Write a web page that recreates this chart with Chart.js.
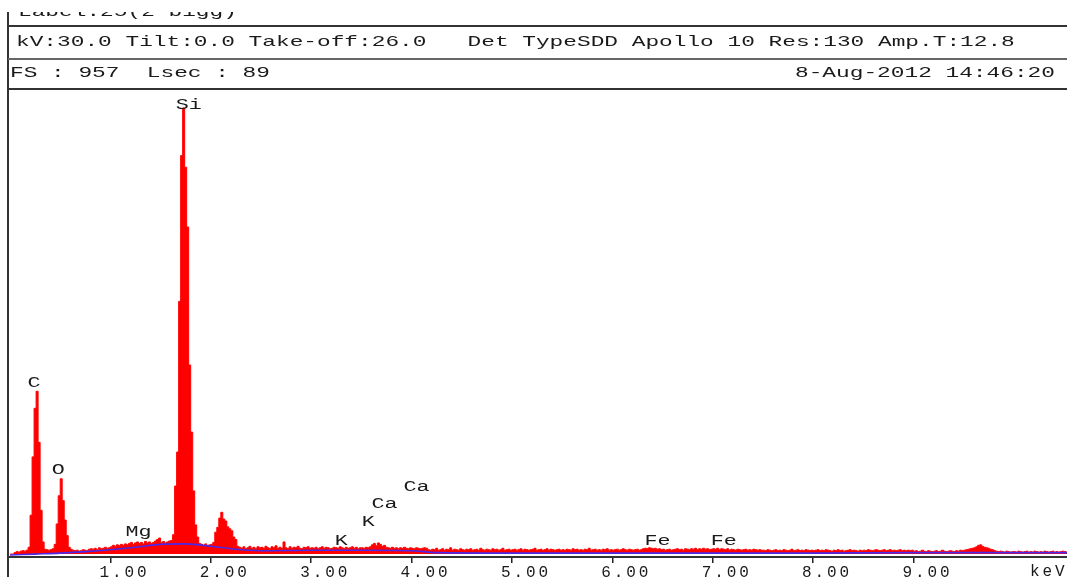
<!DOCTYPE html>
<html>
<head>
<meta charset="utf-8">
<script src="https://cdn.jsdelivr.net/npm/chart.js@4.4.0/dist/chart.umd.min.js"></script>
<style>
  body { margin: 0; background: #fff; }
  #wrap { position: relative; width: 1067px; height: 577px; overflow: hidden; }
  #spectrum { position: absolute; left: 0; top: 0; }
  .txt { position: absolute; font: 15px "Liberation Mono", monospace; line-height: 15px; color: #1a1a1a;
         white-space: pre; transform: scaleX(1.52); transform-origin: 0 50%; }
  .hline { position: absolute; left: 8px; right: 0; }
  #clipTop { position: absolute; left: 9px; top: 12px; width: 1000px; height: 13px; overflow: hidden; }
</style>
</head>
<body>
<div id="wrap">
  <canvas id="spectrum" width="1067" height="577"></canvas>
  <div id="clipTop"><div class="txt" style="left:9px; top:-7px;">Label:25(2 bigg)</div></div>
  <div style="position:absolute; left:7px; top:12px; width:2px; height:565px; background:#333;"></div>
  <div class="hline" style="top:25px; height:2px; background:#333;"></div>
  <div class="txt" style="left:16px; top:35px;">kV:30.0 Tilt:0.0 Take-off:26.0   Det TypeSDD Apollo 10 Res:130 Amp.T:12.8</div>
  <div class="hline" style="top:58px; height:2px; background:#666;"></div>
  <div class="txt" style="left:10px; top:66px;">FS : 957  Lsec : 89</div>
  <div class="txt" style="left:795px; top:66px;">8-Aug-2012 14:46:20</div>
  <div class="hline" style="top:88px; height:2px; background:#333;"></div>
</div>
<script>
// channel width of the spectrum (keV)
const binWidth = 0.02;

// counts per channel, 25 channels (0.5 keV) per row
const counts = [
  0, 0, 3, 5, 4, 6, 7, 6, 8, 14, 80, 200, 300, 335, 230, 90, 25, 10, 9, 8, 9, 11, 20, 62, 120,
  155, 110, 70, 38, 14, 10, 8, 7, 8, 6, 7, 9, 8, 7, 10, 11, 10, 12, 9, 13, 11, 12, 14, 12, 13,
  15, 18, 16, 19, 17, 20, 18, 21, 19, 22, 24, 20, 23, 25, 22, 24, 21, 26, 23, 25, 22, 24, 27, 30, 33,
  24, 26, 23, 25, 27, 28, 40, 140, 210, 520, 820, 918, 796, 673, 389, 251, 130, 60, 35, 22, 20, 18, 21, 17, 19,
  20, 24, 45, 55, 74, 86, 72, 68, 56, 52, 48, 35, 30, 16, 14, 12, 15, 11, 13, 16, 12, 14, 11, 15, 13,
  14, 12, 16, 13, 11, 15, 13, 17, 12, 14, 12, 25, 13, 11, 15, 12, 14, 13, 16, 12, 11, 14, 13, 15, 12,
  13, 12, 14, 11, 13, 15, 12, 14, 13, 11, 12, 14, 13, 12, 15, 13, 11, 14, 12, 13, 15, 12, 14, 11, 13,
  13, 12, 14, 13, 15, 19, 22, 17, 23, 20, 16, 18, 14, 13, 12, 14, 12, 13, 11, 13, 12, 14, 12, 11, 13,
  12, 11, 13, 12, 11, 12, 13, 12, 9, 8, 10, 9, 12, 8, 9, 11, 8, 10, 9, 13, 8, 10, 9, 8, 11,
  9, 8, 10, 9, 11, 8, 9, 10, 8, 12, 9, 8, 10, 9, 8, 11, 9, 10, 8, 9, 12, 8, 9, 10, 8,
  9, 10, 8, 9, 11, 8, 10, 9, 8, 9, 10, 12, 8, 9, 10, 8, 9, 11, 8, 10, 9, 8, 9, 10, 8,
  9, 8, 10, 9, 8, 11, 9, 10, 8, 9, 8, 10, 9, 12, 8, 9, 10, 8, 9, 8, 10, 9, 11, 8, 9,
  8, 9, 10, 8, 9, 11, 9, 8, 10, 9, 8, 9, 10, 8, 9, 11, 12, 11, 13, 12, 11, 12, 10, 11, 9,
  10, 8, 9, 10, 8, 9, 10, 11, 9, 10, 8, 11, 10, 9, 11, 10, 12, 9, 11, 10, 12, 10, 11, 9, 10,
  11, 10, 12, 9, 11, 10, 9, 11, 8, 10, 9, 8, 10, 9, 8, 9, 10, 8, 9, 8, 10, 9, 8, 9, 8,
  8, 7, 9, 8, 7, 8, 9, 7, 8, 7, 9, 8, 7, 8, 10, 7, 8, 9, 7, 8, 7, 9, 8, 7, 8,
  7, 8, 9, 7, 8, 7, 9, 8, 7, 6, 8, 7, 9, 7, 8, 6, 7, 8, 9, 7, 8, 7, 6, 8, 7,
  8, 7, 9, 8, 7, 8, 9, 8, 7, 8, 9, 7, 8, 9, 7, 8, 7, 8, 9, 7, 8, 7, 8, 7, 8,
  6, 7, 5, 6, 8, 6, 5, 7, 6, 5, 6, 7, 5, 6, 8, 6, 5, 6, 7, 6, 5, 7, 6, 8, 7,
  8, 9, 10, 11, 12, 13, 15, 18, 19, 16, 14, 13, 12, 10, 9, 7, 6, 5, 6, 5, 4, 6, 5, 4, 5,
  5, 4, 6, 5, 4, 5, 6, 4, 5, 4, 6, 5, 4, 5, 4, 6, 5, 4, 5, 6, 4, 5, 4, 5, 6,
  5, 4, 5
];

// fitted background (blue line)
const bgEnergy = [0, 0.25, 0.5, 0.75, 1.0, 1.25, 1.5, 1.75, 2.0, 2.25, 2.5, 3.0, 3.5, 4.0, 4.25, 5, 6, 7, 8, 9, 10, 10.53];
const bgCounts = [-2, 0, 2, 5, 9, 14, 20, 21, 16, 10, 7, 8, 8, 7, 3, 2, 2, 2, 2, 3, 3, 3];

// energy axis
const tickValues = [1, 2, 3, 4, 5, 6, 7, 8, 9];
const tickLabels = ['1.00', '2.00', '3.00', '4.00', '5.00', '6.00', '7.00', '8.00', '9.00'];
const unitLabel = 'keV';
const fullScale = 957;

// element markers: name, energy (keV), marker height (counts)
const peakNames = ['C', 'O', 'Mg', 'Si', 'K', 'K', 'Ca', 'Ca', 'Fe', 'Fe'];
const peakEnergy = [0.24, 0.48, 1.28, 1.78, 3.30, 3.57, 3.73, 4.05, 6.45, 7.11];
const peakHeight = [352, 173, 45, 924, 27, 65, 103, 138, 27, 27];

const monoFont = '"Liberation Mono", monospace';

const spacingPlugin = {
    id: 'spacing',
    beforeDraw(chart) {
        chart.ctx.letterSpacing = '2.9px';
    }
};

const labelPlugin = {
    id: 'peakLabels',
    afterDatasetsDraw(chart) {
        const ctx = chart.ctx;
        const x = chart.scales.x, y = chart.scales.y;
        ctx.save();
        ctx.letterSpacing = '0px';
        ctx.font = '14px ' + monoFont;
        ctx.fillStyle = '#1a1a1a';
        ctx.textAlign = 'center';
        ctx.textBaseline = 'middle';
        peakNames.forEach((name, i) => {
            ctx.save();
            ctx.translate(x.getPixelForValue(peakEnergy[i]), y.getPixelForValue(peakHeight[i]));
            ctx.scale(1.55, 1);
            ctx.fillText(name, 0, 0);
            ctx.restore();
        });
        // unit at the right end of the energy axis
        ctx.letterSpacing = '2.9px';
        ctx.font = '16px ' + monoFont;
        ctx.textAlign = 'left';
        ctx.fillText(unitLabel, x.right - 37, x.top + 15);
        ctx.restore();
    }
};

new Chart(document.getElementById('spectrum'), {
    type: 'line',
    data: {
        datasets: [{
            label: 'Background',
            data: bgEnergy.map((e, i) => ({ x: e, y: bgCounts[i] })),
            borderColor: 'rgb(72, 40, 235)',
            borderWidth: 1.6,
            pointRadius: 0,
            fill: false,
            cubicInterpolationMode: 'monotone',
            order: 0
        }, {
            label: 'Counts',
            data: counts.map((c, i) => ({ x: i * binWidth, y: c })),
            borderColor: '#ff0000',
            backgroundColor: '#ff0000',
            borderWidth: 1,
            pointRadius: 0,
            fill: 'origin',
            stepped: true,
            order: 1
        }]
    },
    options: {
        responsive: false,
        animation: false,
        devicePixelRatio: 1,
        layout: { padding: { left: 10, top: 89, right: 0, bottom: 0 } },
        plugins: { legend: { display: false }, tooltip: { enabled: false } },
        scales: {
            x: {
                type: 'linear',
                min: 0,
                max: 10.53,
                afterBuildTicks: scale => { scale.ticks = tickValues.map(v => ({ value: v })); },
                afterFit: scale => { scale.height = 20; },
                grid: { drawOnChartArea: false, drawTicks: true, tickLength: 6, color: '#222', lineWidth: 1.5 },
                border: { display: true, color: '#333', width: 2 },
                ticks: {
                    autoSkip: false,
                    maxRotation: 0,
                    padding: 0,
                    labelOffset: 14,
                    color: '#1a1a1a',
                    font: { family: 'Liberation Mono', size: 16 },
                    callback: (value, index) => tickLabels[index]
                }
            },
            y: { display: false, min: -6, max: fullScale }
        }
    },
    plugins: [spacingPlugin, labelPlugin]
});
</script>
</body>
</html>
